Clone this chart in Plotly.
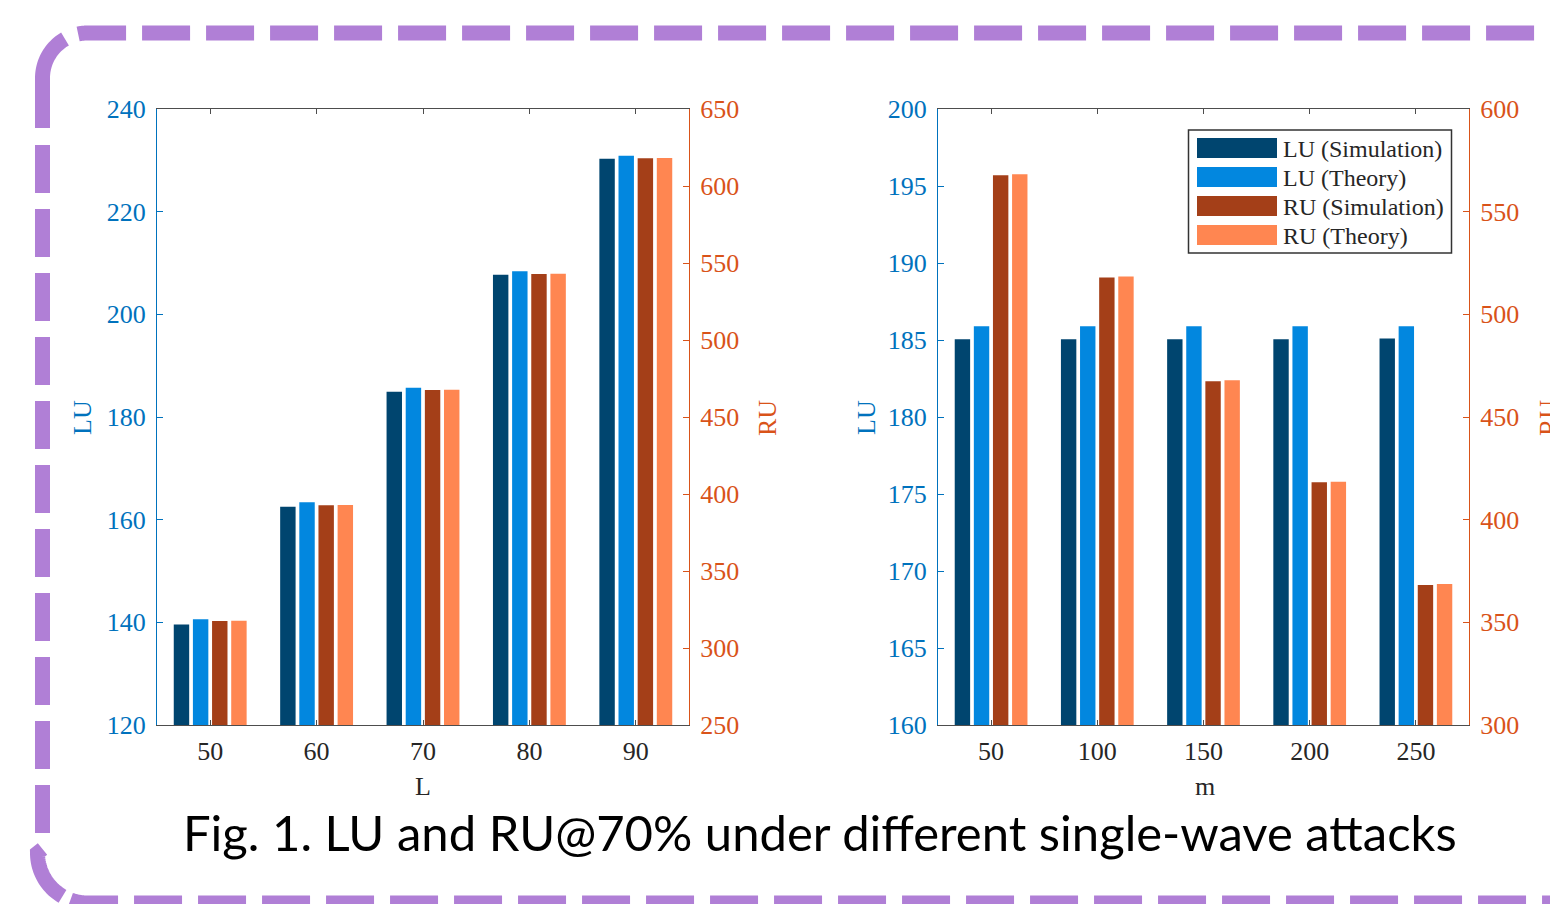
import math
import plotly.graph_objects as go

# ---------------- data ----------------
L_labels = ["50", "60", "70", "80", "90"]
m_labels = ["50", "100", "150", "200", "250"]

series_names = ["LU (Simulation)", "LU (Theory)", "RU (Simulation)", "RU (Theory)"]
series_colors = ["#00456F", "#0287DF", "#A43F18", "#FF8651"]

lu_sim_L = [139.6, 162.5, 184.9, 207.7, 230.3]
lu_th_L = [140.6, 163.4, 185.7, 208.4, 230.9]
ru_sim_L = [317.5, 392.7, 467.6, 542.9, 618.0]
ru_th_L = [317.7, 392.9, 467.7, 543.1, 618.2]

lu_sim_m = [185.05, 185.05, 185.05, 185.05, 185.1]
lu_th_m = [185.9, 185.9, 185.9, 185.9, 185.9]
ru_sim_m = [567.7, 517.9, 467.4, 418.2, 368.2]
ru_th_m = [568.2, 518.4, 467.9, 418.5, 368.7]

caption = "Fig. 1. LU and RU@70% under different single-wave attacks"

# ---------------- layout helpers ----------------
OFF = 8  # page body margin offset
W, H = 1558 - OFF, 904 - OFF
BLUE = "#0072BD"
ORANGE = "#D95319"
GRAY = "#4d4d4d"
SERIF = "Liberation Serif, Times New Roman, serif"


def px(x):
    return (x - OFF) / W


def py(y):
    return 1 - (y - OFF) / H


fig = go.Figure()


def add_group(xa, yl, yr, labels, vals):
    xs = list(range(1, len(labels) + 1))
    for i, (name, col, v) in enumerate(zip(series_names, series_colors, vals)):
        fig.add_trace(go.Bar(
            x=xs, y=v, name=name,
            marker=dict(color=col, line=dict(width=0)),
            width=0.145, offset=-0.3425 + 0.18 * i,
            xaxis=xa, yaxis=(yl if i < 2 else yr),
            showlegend=False, hoverinfo="x+y+name",
        ))


add_group("x", "y", "y2", L_labels, [lu_sim_L, lu_th_L, ru_sim_L, ru_th_L])
add_group("x2", "y3", "y4", m_labels, [lu_sim_m, lu_th_m, ru_sim_m, ru_th_m])

ydom = [py(725), py(109)]


def xaxis_cfg(dom, anchor, labels):
    return dict(
        domain=dom, anchor=anchor, range=[0.5, 5.5], automargin=False,
        tickmode="array", tickvals=list(range(1, len(labels) + 1)), ticktext=labels,
        ticks="inside", ticklen=5, tickcolor=GRAY, tickwidth=1,
        showline=True, linecolor=GRAY, linewidth=1, mirror="ticks",
        showgrid=False, zeroline=False,
        tickfont=dict(family=SERIF, size=26, color="#262626"),
        ticklabelstandoff=3, fixedrange=True,
    )


def yaxis_cfg(rng, dt, color, side, anchor, overlaying=None):
    d = dict(
        domain=ydom, range=rng, dtick=dt, tick0=rng[0], anchor=anchor, side=side,
        automargin=False,
        ticks="inside", ticklen=6, tickcolor=color, tickwidth=1,
        showline=True, linecolor=color, linewidth=1,
        showgrid=False, zeroline=False,
        tickfont=dict(family=SERIF, size=26, color=color),
        ticklabelstandoff=5, fixedrange=True,
    )
    if overlaying:
        d["overlaying"] = overlaying
    return d


fig.update_layout(
    width=W, height=H,
    margin=dict(l=0, r=0, t=0, b=0, autoexpand=False),
    paper_bgcolor="white", plot_bgcolor="rgba(0,0,0,0)",
    barmode="overlay", showlegend=False,
    xaxis=xaxis_cfg([px(157), px(689)], "y", L_labels),
    xaxis2=xaxis_cfg([px(938), px(1469)], "y3", m_labels),
    yaxis=yaxis_cfg([120, 240], 20, BLUE, "left", "x"),
    yaxis2=yaxis_cfg([250, 650], 50, ORANGE, "right", "x", "y"),
    yaxis3=yaxis_cfg([160, 200], 5, BLUE, "left", "x2"),
    yaxis4=yaxis_cfg([300, 600], 50, ORANGE, "right", "x2", "y3"),
)

annotations = []


def ann(text, x, y, color, size=26, angle=0, family=SERIF, xanchor="center"):
    annotations.append(dict(
        text=text, x=px(x), y=py(y), xref="paper", yref="paper",
        showarrow=False, textangle=angle, xanchor=xanchor, yanchor="middle",
        font=dict(family=family, size=size, color=color),
    ))


# axis titles
ann("LU", 82, 418, BLUE, angle=-90)
ann("RU", 767, 418, ORANGE, angle=-90)
ann("L", 423, 786, "#262626")
ann("LU", 866, 418, BLUE, angle=-90)
ann("RU", 1548, 418, ORANGE, angle=-90)
ann("m", 1205, 786, "#262626")

# caption
ann(caption, 820, 832, "black", size=49, family="Lato, Noto Sans, sans-serif")

# legend (manual, MATLAB style)
shapes = []
shapes.append(dict(type="rect", xref="paper", yref="paper",
                   x0=px(1188.5), x1=px(1451.5), y0=py(253), y1=py(130),
                   line=dict(color="#333333", width=1.5), fillcolor="white", layer="above"))
row_y = [148, 177, 206, 235]
for name, col, yy in zip(series_names, series_colors, row_y):
    shapes.append(dict(type="rect", xref="paper", yref="paper",
                       x0=px(1197), x1=px(1277), y0=py(yy + 10), y1=py(yy - 10),
                       line=dict(width=0), fillcolor=col, layer="above"))
    annotations.append(dict(
        text=name, x=px(1281), y=py(yy + 1), xref="paper", yref="paper",
        showarrow=False, xanchor="left", yanchor="middle",
        font=dict(family=SERIF, size=24, color="#262626"),
    ))

# decorative dashed rounded border
PURPLE = "#B07FD6"


def path_from(points):
    s = "M {:.6f},{:.6f}".format(px(points[0][0]), py(points[0][1]))
    for (a, b) in points[1:]:
        s += " L {:.6f},{:.6f}".format(px(a), py(b))
    return s


def arc_pts(cx, cy, r, a0, a1, fx, fy, n=24):
    pts = []
    for k in range(n + 1):
        t = math.radians(a0 + (a1 - a0) * k / n)
        pts.append((cx + fx * r * math.cos(t), cy + fy * r * math.sin(t)))
    return pts


LX, TY, BY = 42.5, 33.0, 903.0
tl = arc_pts(87.5, 78, 45, 60, 0, -1, -1) + [(LX, 128)]
top = arc_pts(87.5, 78, 45, 78, 90, -1, -1) + [(1620, TY)]
left = [(LX, 145), (LX, 833)]
bl = [(LX, 849)] + arc_pts(87.5, 853, 50, 0, 60, -1, 1)
bottom = arc_pts(87.5, 853, 50, 70, 90, -1, 1) + [(1620, BY)]

for pts, dash in [(tl, "solid"), (top, "48px,16px"), (left, "48px,16px"),
                  (bl, "solid"), (bottom, "48px,16px")]:
    shapes.append(dict(type="path", xref="paper", yref="paper", path=path_from(pts),
                       line=dict(color=PURPLE, width=15, dash=dash), layer="above"))

fig.update_layout(annotations=annotations, shapes=shapes)

fig.write_html("out.html")
